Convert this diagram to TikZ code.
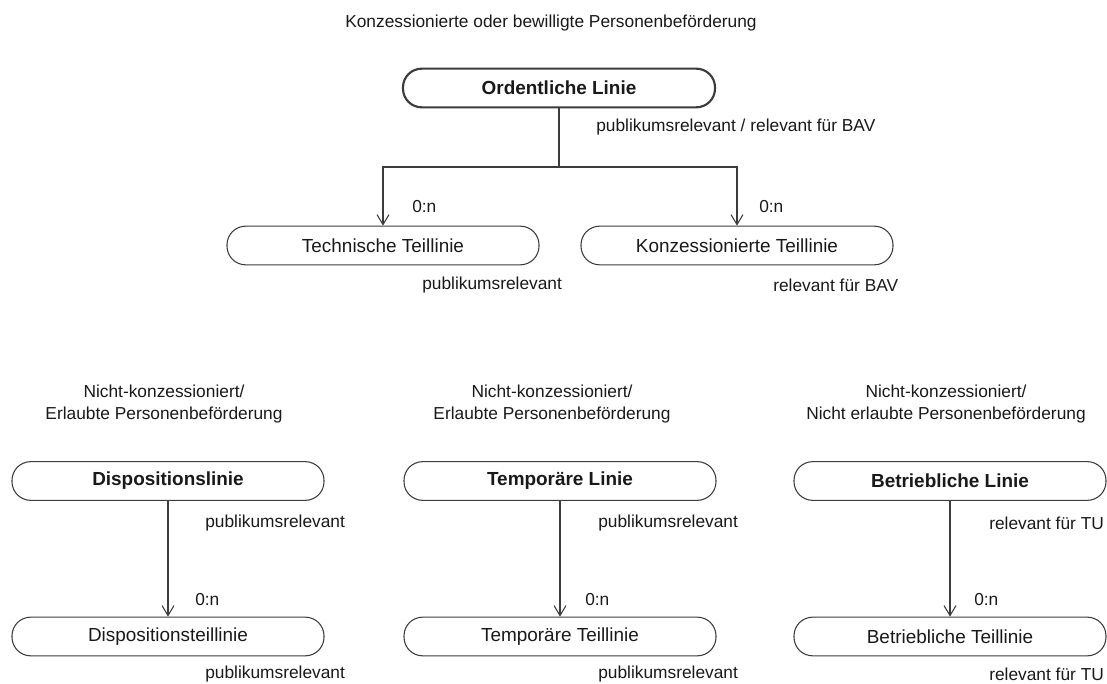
\documentclass[tikz,border=0pt]{standalone}
\usepackage{fontspec}
\setmainfont{Liberation Sans}
\usetikzlibrary{arrows.meta,positioning}
\definecolor{linegray}{RGB}{60,60,60}
\definecolor{textgray}{RGB}{25,25,25}

\begin{document}
\begin{tikzpicture}[x=0.75pt, y=-0.75pt,
    every node/.style={font=\fontsize{13}{16.5}\selectfont, text=textgray},
    linie/.style={draw=linegray, line width=0.8pt, rounded corners=14pt, minimum width=234pt, minimum height=29pt, inner sep=0pt, font=\fontsize{14.2}{16.5}\selectfont},
    grundlinie/.style={linie, font=\fontsize{14.2}{16.5}\selectfont\bfseries},
    rel/.style={anchor=west, inner sep=0pt},
    conn/.style={draw=linegray, line width=0.8pt, -{Straight Barb[length=7.5pt,width=9pt]}}]
    \useasboundingbox (0,0) rectangle (1107,684);

    % Konzessioniert
    \node (titel) at (551,23) {Konzessionierte oder bewilligte Personenbeförderung};
    \node[grundlinie, line width=1.6pt] (ord) at (559,88) {Ordentliche Linie};
    \node[linie] (tech) at (383,245.5) {Technische Teillinie};
    \node[linie] (konz) at (737,245.5) {Konzessionierte Teillinie};
    \coordinate (split) at (559,167);
    \draw[draw=linegray, line width=0.8pt] (ord) -- (split);
    \draw[conn] (split) -| (tech);
    \draw[conn] (split) -| (konz);
    \node[rel] (ordrel) at (596,127) {publikumsrelevant / relevant für BAV};
    \node[rel] (techn) at (412,207) {0:n};
    \node[rel] (konzn) at (759,207) {0:n};
    \node[rel] (techrel) at (422,285) {publikumsrelevant};
    \node[rel] (konzrel) at (773,285) {relevant für BAV};

    % Dispositionslinie
    \node[align=center] (dispkopf) at (164,404) {Nicht-konzessioniert/\\Erlaubte Personenbeförderung};
    \node[grundlinie] (disp) at (168,481) {Dispositionslinie};
    \node[linie] (dispteil) at (168,636.5) {Dispositionsteillinie};
    \draw[conn] (disp) -- (dispteil);
    \node[rel] (disprel) at (205,523) {publikumsrelevant};
    \node[rel] (dispn) at (195,600) {0:n};
    \node[rel] (dispteilrel) at (205,674) {publikumsrelevant};

    % Temporaere Linie
    \node[align=center] (tempkopf) at (552,404) {Nicht-konzessioniert/\\Erlaubte Personenbeförderung};
    \node[grundlinie] (temp) at (560,481) {Temporäre Linie};
    \node[linie] (tempteil) at (560,636.5) {Temporäre Teillinie};
    \draw[conn] (temp) -- (tempteil);
    \node[rel] (temprel) at (598,523) {publikumsrelevant};
    \node[rel] (tempn) at (585,600) {0:n};
    \node[rel] (tempteilrel) at (598,674) {publikumsrelevant};

    % Betriebliche Linie
    \node[align=center] (betrkopf) at (946,404) {Nicht-konzessioniert/\\Nicht erlaubte Personenbeförderung};
    \node[grundlinie] (betr) at (950,481) {Betriebliche Linie};
    \node[linie] (betrteil) at (950,636.5) {Betriebliche Teillinie};
    \draw[conn] (betr) -- (betrteil);
    \node[rel] (betrrel) at (989,523) {relevant für TU};
    \node[rel] (betrn) at (974,600) {0:n};
    \node[rel] (betrteilrel) at (989,674) {relevant für TU};
\end{tikzpicture}
\end{document}
